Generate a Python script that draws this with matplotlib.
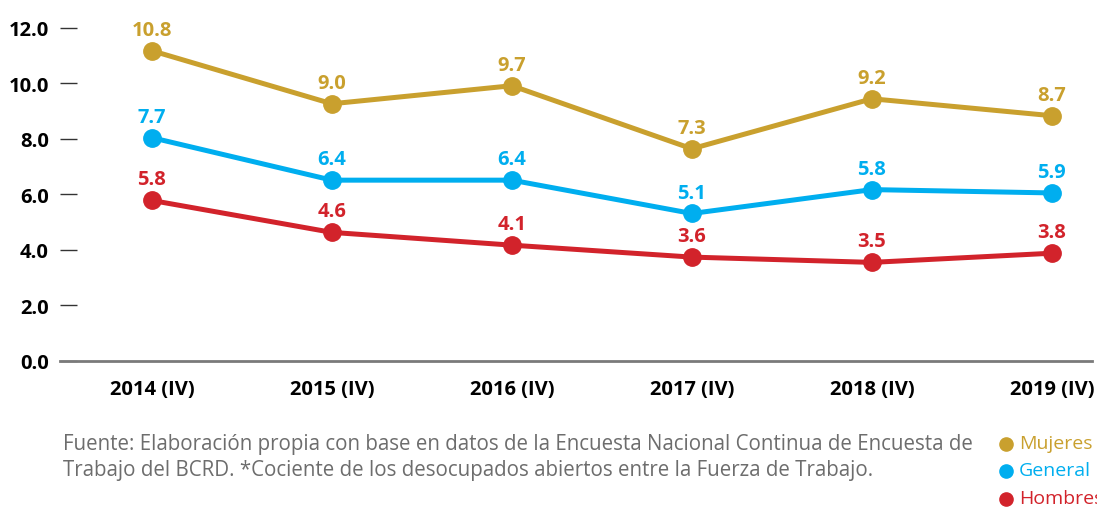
import matplotlib.pyplot as plt
from matplotlib.lines import Line2D

plt.rcParams['font.family'] = ['Open Sans', 'DejaVu Sans']

years = ['2014 (IV)', '2015 (IV)', '2016 (IV)', '2017 (IV)', '2018 (IV)', '2019 (IV)']

# point heights as drawn in the chart, and the printed labels
mujeres = [11.17, 9.26, 9.91, 7.64, 9.44, 8.83]
general = [8.04, 6.51, 6.51, 5.31, 6.17, 6.05]
hombres = [5.78, 4.63, 4.17, 3.74, 3.55, 3.88]
mujeres_lbl = ['10.8', '9.0', '9.7', '7.3', '9.2', '8.7']
general_lbl = ['7.7', '6.4', '6.4', '5.1', '5.8', '5.9']
hombres_lbl = ['5.8', '4.6', '4.1', '3.6', '3.5', '3.8']

yticks = [0, 2, 4, 6, 8, 10, 12]

c_muj = '#C9A02E'
c_gen = '#00AEEF'
c_hom = '#D2232B'

fig = plt.figure(figsize=(10.97, 5.10), dpi=100)
ax = fig.add_axes([0.0547, 0.2902, 0.9403, 0.6754])

x = range(len(years))
series = [(mujeres, mujeres_lbl, c_muj), (general, general_lbl, c_gen), (hombres, hombres_lbl, c_hom)]
for vals, lbls, col in series:
    ax.plot(x, vals, color=col, lw=3.6, marker='o', ms=12.5, solid_capstyle='round', zorder=3)
    for xi, v, t in zip(x, vals, lbls):
        ax.annotate(t, (xi, v), xytext=(0, 11.5), textcoords='offset points',
                    ha='center', va='baseline', color=col, fontsize=14.5, fontweight='bold')

ax.set_xlim(-0.51, 5.22)
ax.set_ylim(0, 12.4)
ax.set_yticks(yticks)
ax.set_yticklabels([f'{v:.1f}' for v in yticks], fontsize=14.5, fontweight='bold')
ax.set_xticks(list(x))
ax.set_xticklabels(years, fontsize=14.5, fontweight='bold')
ax.tick_params(axis='y', direction='in', length=12, width=1, color='#333333', pad=8)
ax.tick_params(axis='x', length=0, pad=13)
for s in ['top', 'right', 'left']:
    ax.spines[s].set_visible(False)
ax.spines['bottom'].set_color('#7a7a7a')
ax.spines['bottom'].set_linewidth(2)

foot = ['Fuente: Elaboración propia con base en datos de la Encuesta Nacional Continua de Encuesta de',
        'Trabajo del BCRD. *Cociente de los desocupados abiertos entre la Fuerza de Trabajo.']
row_y = [0.1294, 0.0765, 0.0216]
for line, yy in zip(foot, row_y):
    fig.text(0.0575, yy, line, fontsize=14.8, color='#6d6d6d', va='center')

for (name, col), yy in zip([('Mujeres', c_muj), ('General', c_gen), ('Hombres', c_hom)], row_y):
    fig.add_artist(Line2D([0.917], [yy - 0.002], marker='o', ms=9.5, color=col, transform=fig.transFigure))
    fig.text(0.929, yy, name, fontsize=14, color=col, va='center')

fig.savefig('out.png', dpi=100)
